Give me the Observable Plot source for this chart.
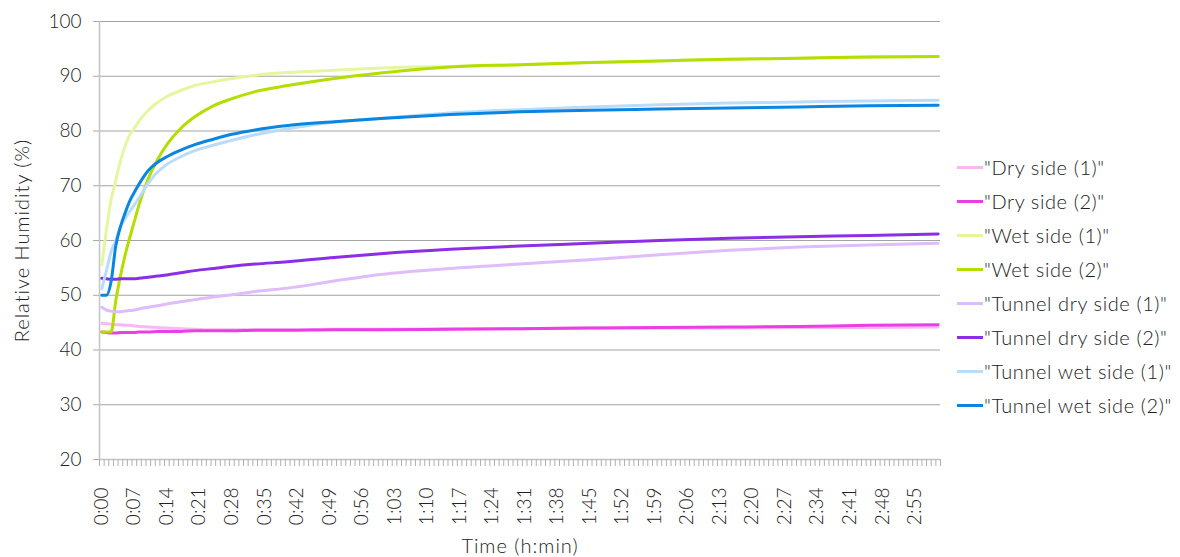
<!DOCTYPE html>
<html>
<head>
<meta charset="utf-8">
<script src="https://cdn.jsdelivr.net/npm/d3@7"></script>
<script src="https://cdn.jsdelivr.net/npm/@observablehq/plot@0.6"></script>
<style>
  html, body { margin: 0; padding: 0; background: #fff; }
  #wrap { position: relative; width: 1180px; height: 557px; font-family: Lato, "Open Sans", sans-serif; font-weight: 300; color: #222; }
  #legend { position: absolute; left: 957px; top: 150px; font-size: 20px; letter-spacing: 0.6px; }
  .item { height: 34px; display: flex; align-items: center; white-space: nowrap; }
  .sw { width: 26px; height: 3px; margin-right: 1px; }
</style>
</head>
<body>
<div id="wrap"><div id="legend"></div></div>
<script>
// time in minutes since start
const times = [0,1,2,3,4,5,6,7,8,10,12,14,17,20,24,28,33,40,50,60,75,90,105,120,135,150,165,180];

const seriesNames = ['"Dry side (1)"','"Dry side (2)"','"Wet side (1)"','"Wet side (2)"','"Tunnel dry side (1)"','"Tunnel dry side (2)"','"Tunnel wet side (1)"','"Tunnel wet side (2)"'];
const seriesColors = ["#f9b8f2","#ea3fe6","#e4f7a0","#b4de00","#dfbcfb","#8b2ee6","#b9dcfb","#0a86e2"];

const drySide1 = [44.9,44.8,44.7,44.6,44.6,44.5,44.5,44.4,44.3,44.2,44.1,44.0,43.9,43.8,43.7,43.7,43.7,43.7,43.8,43.8,43.9,43.9,44.0,44.0,44.0,44.1,44.1,44.2];
const drySide2 = [43.3,43.2,43.1,43.1,43.2,43.2,43.2,43.2,43.3,43.3,43.4,43.4,43.4,43.5,43.5,43.5,43.6,43.6,43.7,43.7,43.8,43.9,44.0,44.1,44.2,44.3,44.5,44.6];
const wetSide1 = [55.5,62.0,67.5,71.0,74.5,77.2,79.3,80.5,81.8,83.8,85.2,86.3,87.4,88.3,89.0,89.6,90.2,90.7,91.1,91.5,91.8,92.1,92.5,92.8,93.1,93.3,93.5,93.6];
const wetSide2 = [43.3,43.3,43.3,49.0,53.5,57.3,60.5,63.5,66.5,71.3,74.8,77.5,80.5,82.6,84.6,85.9,87.2,88.3,89.6,90.6,91.7,92.1,92.5,92.8,93.1,93.3,93.5,93.6];
const tunnelDry1 = [47.8,47.3,47.1,47.0,47.0,47.1,47.2,47.3,47.5,47.8,48.1,48.4,48.8,49.2,49.7,50.1,50.7,51.3,52.6,53.8,54.9,55.7,56.5,57.4,58.2,58.8,59.2,59.5];
const tunnelDry2 = [53.1,53.0,52.9,52.9,53.0,53.0,53.0,53.0,53.1,53.3,53.5,53.7,54.1,54.5,54.9,55.3,55.7,56.1,56.9,57.6,58.4,59.0,59.5,60.0,60.4,60.7,60.9,61.2];
const tunnelWet1 = [51.2,54.5,58.0,60.0,62.5,64.0,65.3,66.5,67.8,70.5,72.5,73.9,75.3,76.4,77.4,78.3,79.3,80.4,81.6,82.3,83.3,83.9,84.4,84.8,85.1,85.3,85.5,85.6];
const tunnelWet2 = [50.0,50.0,52.5,59.0,62.5,65.0,67.2,68.8,70.3,72.8,74.3,75.3,76.5,77.5,78.5,79.4,80.2,81.0,81.7,82.3,83.0,83.5,83.8,84.0,84.2,84.4,84.6,84.7];

const allSeries = [drySide1, drySide2, wetSide1, wetSide2, tunnelDry1, tunnelDry2, tunnelWet1, tunnelWet2];
const yTicks = [20,30,40,50,60,70,80,90,100];
const xLabelTicks = d3.range(0, 180, 7);
const xMinorTicks = d3.range(0, 182).map(i => i - 0.5);

const rows = [];
allSeries.forEach((vals, s) => vals.forEach((v, i) => rows.push({series: seriesNames[s], t: times[i], v})));

const fmt = m => `${Math.floor(m / 60)}:${String(m % 60).padStart(2, "0")}`;
const font = "Lato, 'Open Sans', sans-serif";

const chart = Plot.plot({
  width: 1180,
  height: 557,
  marginLeft: 99,
  marginRight: 240,
  marginTop: 21,
  marginBottom: 98,
  style: {fontFamily: font, fontSize: "19px", fontWeight: 300, color: "#222", background: "white", overflow: "visible"},
  x: {domain: [-0.5, 180.5], axis: null},
  y: {domain: [20, 100], axis: null},
  color: {domain: seriesNames, range: seriesColors},
  marks: [
    Plot.ruleY(yTicks.slice(1), {stroke: "#a3a3a3", strokeWidth: 1.2}),
    Plot.ruleY([20], {stroke: "#c4c4c4", strokeWidth: 1.5}),
    Plot.ruleX([-0.5], {stroke: "#c4c4c4", strokeWidth: 1.5}),
    Plot.axisY({ticks: yTicks, tickSize: 6, tickPadding: 12, stroke: "#aaa", fontSize: 19, label: null, ariaLabel: "ylab"}),
    Plot.axisX({ticks: xMinorTicks, tickSize: 7, tickFormat: () => "", stroke: "#b0b0b0", label: null}),
    Plot.axisX({ticks: xLabelTicks, tickSize: 0, tickPadding: 28, tickRotate: -90, tickFormat: fmt, fontSize: 19, label: null}),
    Plot.text(["Relative Humidity (%)"], {frameAnchor: "left", dx: -77, rotate: -90, textAnchor: "middle", lineAnchor: "middle", fontSize: 20, fill: "#222"}),
    Plot.text(["Time (h:min)"], {frameAnchor: "bottom", dy: 87, textAnchor: "middle", lineAnchor: "middle", fontSize: 20, fill: "#222"}),
    Plot.line(rows, {x: "t", y: "v", z: "series", stroke: "series", strokeWidth: 3, curve: "monotone-x"})
  ]
});
// enforce font sizes / spacing on text
d3.select(chart).selectAll("text").style("font-size", function() {
  const fs = this.getAttribute("font-size") || (this.parentNode && this.parentNode.getAttribute("font-size"));
  return fs ? fs + "px" : null;
});
d3.select(chart).selectAll("text").filter(function() { return /Relative|Time/.test(this.textContent); }).style("letter-spacing", "1px");

const wrap = document.getElementById("wrap");
wrap.insertBefore(chart, wrap.firstChild);

const legend = document.getElementById("legend");
seriesNames.forEach((n, i) => {
  const it = document.createElement("div");
  it.className = "item";
  it.innerHTML = `<div class="sw" style="background:${seriesColors[i]}"></div><span>${n}</span>`;
  legend.appendChild(it);
});
</script>
</body>
</html>
